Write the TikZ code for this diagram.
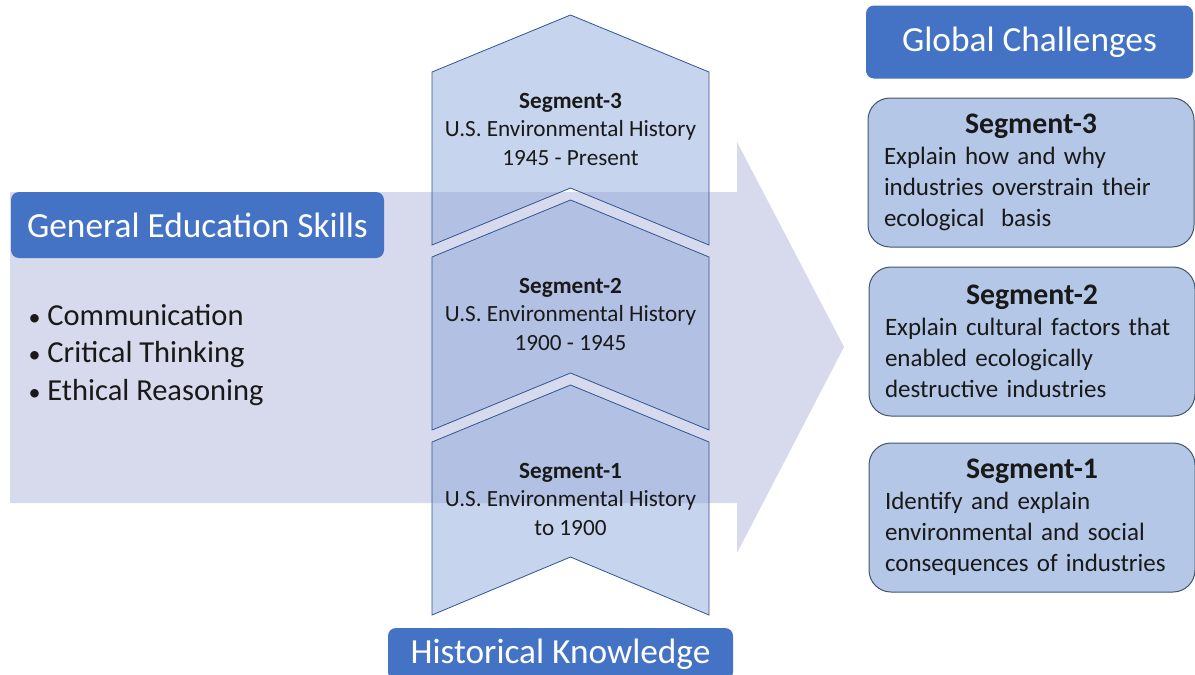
\documentclass[tikz,border=0pt]{standalone}
\usepackage{fontspec}
\setmainfont{Carlito}
\usepackage{tikz}
\usetikzlibrary{positioning}

\definecolor{HeadBlue}{HTML}{4472C4}
\definecolor{ArrowFill}{HTML}{D6DAEC}
\definecolor{ChevFill}{HTML}{8FAADC}
\definecolor{ChevLine}{HTML}{2F5597}
\definecolor{ChalFill}{HTML}{B4C7E7}
\definecolor{ChalLine}{HTML}{44546A}

\begin{document}
\begin{tikzpicture}[x=1pt, y=-1pt]
    \tikzset{HeadStyle/.style = {fill=HeadBlue, rounded corners=8pt, text=white,
                                 inner sep=0pt, font=\fontsize{35.3}{40}\selectfont}}
    \tikzset{ChevStyle/.style = {fill=ChevFill, fill opacity=0.5, draw=ChevLine, line width=0.8pt}}
    \tikzset{HistStyle/.style = {align=center, text=black!90, font=\fontsize{23.2}{28.5}\selectfont}}
    \tikzset{ChalStyle/.style = {fill=ChalFill, draw=ChalLine, line width=1pt, rounded corners=22pt,
                                 minimum width=326pt, minimum height=149pt, inner xsep=16pt,
                                 text width=294pt, align=left, text=black!90,
                                 font=\fontsize{25}{31}\selectfont}}
    \useasboundingbox (0,0) rectangle (1195,675);

    % big arrow behind everything
    \fill[ArrowFill] (10,192) -- (737,192) -- (737,142) -- (844,347) -- (737,553)
        -- (737,503) -- (10,503) -- cycle;

    \node[HeadStyle, minimum width=373pt, minimum height=66pt](GenSkills) at (197.5,225)
        {General Education Skills};
    \node[anchor=west, align=left, text=black!90, font=\fontsize{30.5}{37.5}\selectfont]
        (SkillList) at (25,355)
        {{\fontsize{24}{24}\selectfont\textbullet}\ Communication\\
         {\fontsize{24}{24}\selectfont\textbullet}\ Critical Thinking\\
         {\fontsize{24}{24}\selectfont\textbullet}\ Ethical Reasoning};

    % chevrons
    \draw[ChevStyle] (432,72) -- (570.5,15) -- (709,72) -- (709,245) -- (570.5,188)
        -- (432,245) -- cycle;
    \draw[ChevStyle] (432,257) -- (570.5,200) -- (709,257) -- (709,430) -- (570.5,373)
        -- (432,430) -- cycle;
    \draw[ChevStyle] (432,442) -- (570.5,385) -- (709,442) -- (709,615) -- (570.5,557)
        -- (432,615) -- cycle;
    \node[HistStyle](Hist3) at (570.5,129)
        {\textbf{Segment-3}\\ U.S. Environmental History\\ 1945 - Present};
    \node[HistStyle](Hist2) at (570.5,314)
        {\textbf{Segment-2}\\ U.S. Environmental History\\ 1900 - 1945};
    \node[HistStyle](Hist1) at (570.5,499)
        {\textbf{Segment-1}\\ U.S. Environmental History\\ to 1900};

    \node[HeadStyle, minimum width=345pt, minimum height=52pt](HistKnow) at (560.5,654)
        {Historical Knowledge};

    % right column
    \node[HeadStyle, minimum width=327pt, minimum height=73pt](GlobChal) at (1029.5,42)
        {Global Challenges};
    \node[ChalStyle](Chal3) at (1031,172.5)
        {\makebox[\linewidth]{\fontsize{29.8}{32}\selectfont\textbf{Segment-3}}\\
         Explain how and why\\ industries overstrain their\\ ecological\ \ basis};
    \node[ChalStyle](Chal2) at (1032,341.5)
        {\makebox[\linewidth]{\fontsize{29.8}{32}\selectfont\textbf{Segment-2}}\\
         Explain cultural factors that\\ enabled ecologically\\ destructive industries};
    \node[ChalStyle](Chal1) at (1032,517.5)
        {\makebox[\linewidth]{\fontsize{29.8}{32}\selectfont\textbf{Segment-1}}\\
         Identify and explain\\ environmental and social\\ consequences of industries};
\end{tikzpicture}
\end{document}
